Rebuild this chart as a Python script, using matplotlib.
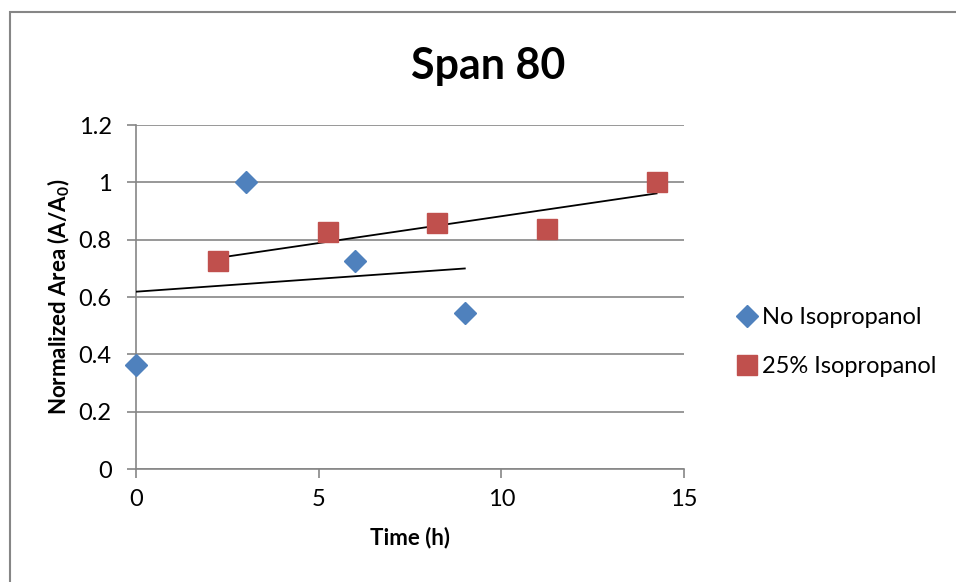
import numpy as np
import matplotlib
import matplotlib.pyplot as plt
from matplotlib.patches import Rectangle

matplotlib.use("Agg")

plt.rcParams["font.family"] = ["Lato", "DejaVu Sans"]
plt.rcParams["mathtext.fontset"] = "custom"
plt.rcParams["mathtext.rm"] = "Lato"
plt.rcParams["mathtext.bf"] = "Lato:bold"

# Datos
time_no_ipa = [0, 3, 6, 9]
area_no_ipa = [0.364, 1.0, 0.727, 0.545]
time_ipa = [2.25, 5.25, 8.25, 11.25, 14.25]
area_ipa = [0.724, 0.827, 0.857, 0.837, 1.0]

blue = "#4F81BD"
red = "#C0504D"
grid_gray = "#868686"

fig = plt.figure(figsize=(9.56, 5.82), dpi=100)
ax = fig.add_axes([136 / 956, 1 - 469 / 582, (684 - 136) / 956, (469 - 125) / 582])

# Borde del gráfico
fig.patches.append(Rectangle((10 / 956, -0.01), 1.0, 1 - 12 / 582 + 0.01,
                             transform=fig.transFigure, fill=False,
                             edgecolor="#868686", linewidth=1.5))

# Puntos
ax.plot(time_no_ipa, area_no_ipa, linestyle="none", marker="D", ms=11,
        color=blue, label="No Isopropanol", zorder=4, clip_on=False)
ax.plot(time_ipa, area_ipa, linestyle="none", marker="s", ms=14,
        color=red, label="25% Isopropanol", zorder=4, clip_on=False)

# Líneas de tendencia lineales
for xs, ys in [(time_no_ipa, area_no_ipa), (time_ipa, area_ipa)]:
    coef = np.polyfit(xs, ys, 1)
    xr = np.array([min(xs), max(xs)])
    ax.plot(xr, np.polyval(coef, xr), color="black", linewidth=1.3, zorder=3)

ax.set_xlim(0, 15)
ax.set_ylim(0, 1.2)
ax.set_xticks([0, 5, 10, 15])
ax.set_yticks([0, 0.2, 0.4, 0.6, 0.8, 1.0, 1.2])
ax.set_yticklabels(["0", "0.2", "0.4", "0.6", "0.8", "1", "1.2"])
ax.yaxis.grid(True, color=grid_gray, linewidth=1.2)
ax.set_axisbelow(True)
for s in ["top", "right"]:
    ax.spines[s].set_visible(False)
for s in ["left", "bottom"]:
    ax.spines[s].set_color(grid_gray)
    ax.spines[s].set_linewidth(1.2)
ax.tick_params(axis="both", direction="out", length=6.5, width=1.2,
               color=grid_gray, labelsize=17)
ax.tick_params(axis="y", pad=11)
ax.tick_params(axis="x", pad=8)

fig.text(488 / 956, 1 - 66 / 582, "Span 80", fontsize=31, fontweight="bold",
         ha="center", va="center")
ax.set_xlabel("Time (h)", fontsize=16, fontweight="bold", labelpad=12)
ax.set_ylabel(r"Normalized Area (A/A$_\mathbf{0}$)", fontsize=16,
              fontweight="bold", labelpad=5)

ax.legend(loc="center left", bbox_to_anchor=(712 / 956, 1 - 342 / 582),
          bbox_transform=fig.transFigure, frameon=False, fontsize=17,
          handletextpad=0.0, handlelength=1.2, labelspacing=1.2)

plt.savefig("out.png", dpi=100)
plt.close()
